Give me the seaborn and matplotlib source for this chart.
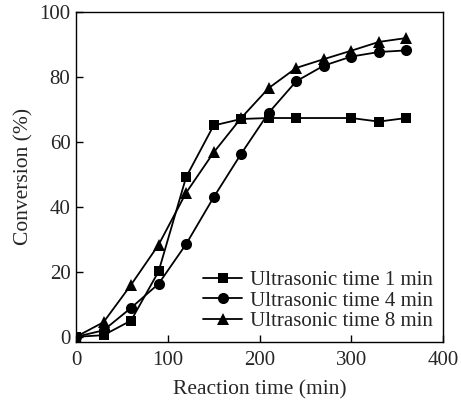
import matplotlib
matplotlib.use("Agg")
import matplotlib.pyplot as plt
import seaborn as sns
import pandas as pd

sns.set_style("ticks")
plt.rcParams['font.family'] = ['Liberation Serif', 'DejaVu Serif']
plt.rcParams['mathtext.fontset'] = 'stix'

series_names = ["Ultrasonic time 1 min", "Ultrasonic time 4 min", "Ultrasonic time 8 min"]

time_1min = [0, 30, 60, 90, 120, 150, 180, 210, 240, 300, 330, 360]
conv_1min = [0, 0.5, 5, 20.1, 49.1, 65, 67, 67.3, 67.3, 67.3, 66.2, 67.3]

time_4min = [0, 30, 60, 90, 120, 150, 180, 210, 240, 270, 300, 330, 360]
conv_4min = [0, 2, 8.9, 16.3, 28.5, 42.9, 56.3, 68.9, 78.6, 83.4, 86.2, 87.6, 88.1]

time_8min = [0, 30, 60, 90, 120, 150, 180, 210, 240, 270, 300, 330, 360]
conv_8min = [0, 4.5, 16, 28.3, 44.3, 56.7, 67.3, 76.5, 82.7, 85.4, 88, 90.7, 91.9]

x_ticks = [0, 100, 200, 300, 400]
y_ticks = [0, 20, 40, 60, 80, 100]

frames = []
for name, t, c in zip(series_names, [time_1min, time_4min, time_8min],
                      [conv_1min, conv_4min, conv_8min]):
    frames.append(pd.DataFrame({"time": t, "conv": c, "series": name}))
df = pd.concat(frames, ignore_index=True)

fig = plt.figure(figsize=(4.61, 4.05), dpi=100)
ax = fig.add_axes([76 / 461, 1 - 341.7 / 405, (443 - 76) / 461, (341.7 - 11.7) / 405])

markers = {series_names[0]: "s", series_names[1]: "o", series_names[2]: "^"}
sizes = {series_names[0]: 7, series_names[1]: 8, series_names[2]: 8.5}
for name in series_names:
    sub = df[df["series"] == name]
    sns.lineplot(data=sub, x="time", y="conv", ax=ax, color="black",
                 marker=markers[name], markersize=sizes[name], markeredgewidth=0,
                 linewidth=1.3, label=name, sort=False)

ax.set_xlim(0, 400)
ax.set_ylim(-1.5, 100)
ax.set_xticks(x_ticks)
ax.set_yticks(y_ticks)
ax.tick_params(direction="in", length=5, width=1, labelsize=15, color="black",
               top=False, right=False)
ax.tick_params(axis="x", pad=7)
ax.tick_params(axis="y", pad=4)
for s in ax.spines.values():
    s.set_linewidth(1.0)
    s.set_color("black")
ax.set_xlabel("Reaction time (min)", fontsize=15.5, labelpad=7)
ax.set_ylabel("Conversion (%)", fontsize=15.5, labelpad=4)

leg = ax.legend(loc="lower right", frameon=False, fontsize=15, handlelength=1.9,
                handletextpad=0.35, labelspacing=0.05, borderaxespad=0.1,
                bbox_to_anchor=(1.0, 0.0))

fig.savefig("out.png", dpi=100)
